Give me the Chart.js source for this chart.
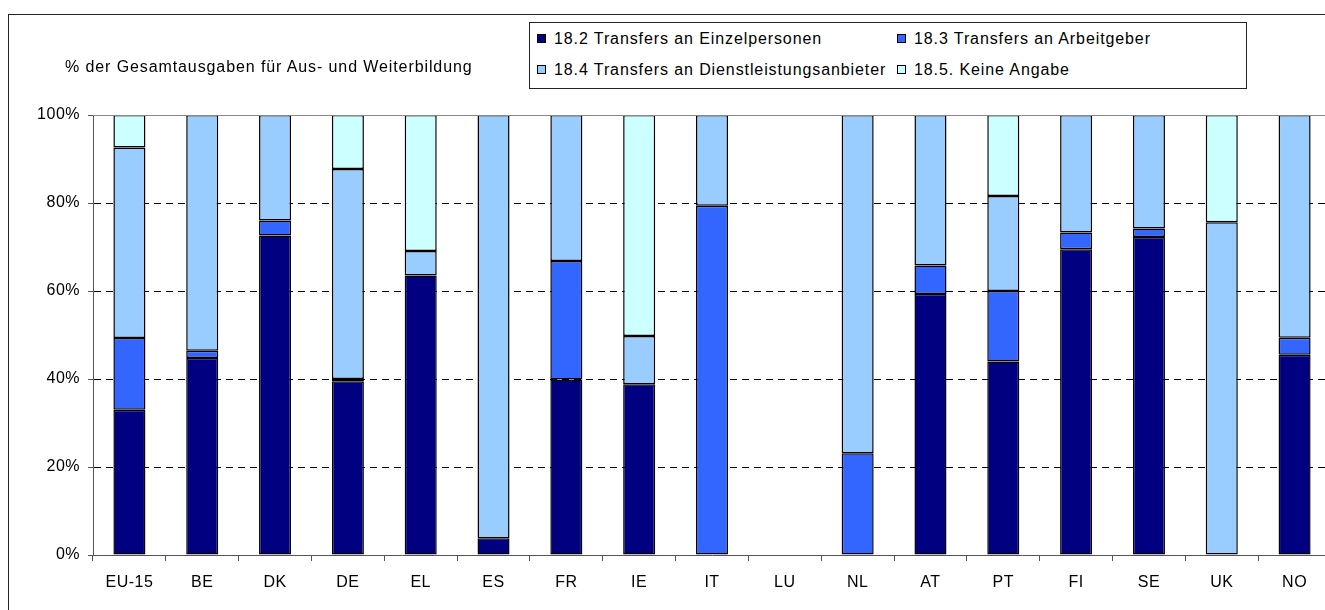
<!DOCTYPE html>
<html>
<head>
<meta charset="utf-8">
<script src="https://cdn.jsdelivr.net/npm/chart.js@4.4.0/dist/chart.umd.min.js"></script>
<style>
  body { margin: 0; background: #fff; overflow: hidden; width: 1325px; height: 610px; position: relative; font-family: "Liberation Sans", Arial, sans-serif; }
  #frame { position: absolute; left: 8px; top: 14px; width: 1400px; height: 700px; border: 1px solid #222; }
  #chart { position: absolute; left: 0; top: 0; }
  #title { position: absolute; left: 65px; top: 58px; font-size: 16px; letter-spacing: 0.9px; color: #000; white-space: nowrap; }
  #legend { position: absolute; left: 529px; top: 22px; width: 716px; height: 65px; border: 1px solid #222; background: #fff; }
  .item { position: absolute; font-size: 16px; letter-spacing: 0.9px; white-space: nowrap; line-height: 18px; }
  .item span.box { display: inline-block; width: 7px; height: 7px; border: 1px solid #000; margin-right: 8px; vertical-align: 1px; }
</style>
</head>
<body>
<div id="frame"></div>
<canvas id="chart" width="1340" height="610"></canvas>
<div id="title">% der Gesamtausgaben für Aus- und Weiterbildung</div>
<div id="legend"></div>
<script>
var categories = ['EU-15', 'BE', 'DK', 'DE', 'EL', 'ES', 'FR', 'IE', 'IT', 'LU', 'NL', 'AT', 'PT', 'FI', 'SE', 'UK', 'NO'];

// Anteile in %, null = kein Segment
var einzelpersonen = [33.0, 44.8, 72.6, 39.5, 63.5, 3.8, 39.9, 38.8, null, null, null, 59.3, 44.0, 69.5, 72.3, null, 45.5];
var arbeitgeber    = [16.3, 1.6, 3.4, 0.5, null, null, 26.9, null, 79.4, null, 23.1, 6.5, 16.0, 3.8, 1.9, null, 3.9];
var dienstleister  = [43.3, 53.6, 24.0, 47.7, 5.6, 96.2, 33.2, 11.0, 20.6, null, 76.9, 34.2, 21.6, 26.7, 25.8, 75.6, 50.6];
var keineAngabe    = [7.4, null, null, 12.3, 30.9, null, null, 50.2, null, null, null, null, 18.4, null, null, 24.4, null];

var yTicks = [0, 20, 40, 60, 80, 100];

var seriesNames = [
    '18.2 Transfers an Einzelpersonen',
    '18.3 Transfers an Arbeitgeber',
    '18.4 Transfers an Dienstleistungsanbieter',
    '18.5. Keine Angabe'
];
var seriesColors = ['#000080', '#3366ff', '#99ccff', '#ccffff'];
var seriesData = [einzelpersonen, arbeitgeber, dienstleister, keineAngabe];

var font = { family: '"Liberation Sans", Arial, sans-serif', size: 16 };

// etwas breitere Schrift wie im Original
var spacing = {
    id: 'spacing',
    beforeUpdate: function (chart) { chart.ctx.letterSpacing = '0.5px'; },
    beforeDraw: function (chart) { chart.ctx.letterSpacing = '0.5px'; }
};

// graue Linie oben am Diagrammbereich
var plotTop = {
    id: 'plotTop',
    afterDraw: function (chart) {
        var a = chart.chartArea, ctx = chart.ctx;
        ctx.save();
        ctx.strokeStyle = '#888';
        ctx.lineWidth = 1;
        ctx.beginPath();
        ctx.moveTo(a.left, Math.round(a.top) + 0.5);
        ctx.lineTo(a.right, Math.round(a.top) + 0.5);
        ctx.stroke();
        ctx.restore();
    }
};

var datasets = seriesData.map(function (d, i) {
    return {
        label: seriesNames[i],
        data: d,
        backgroundColor: seriesColors[i],
        borderColor: '#000',
        borderWidth: 1.5,
        borderSkipped: false,
        inflateAmount: 0,
        barPercentage: 0.44,
        categoryPercentage: 1
    };
});

new Chart(document.getElementById('chart'), {
    type: 'bar',
    data: { labels: categories, datasets: datasets },
    plugins: [spacing, plotTop],
    options: {
        responsive: false,
        animation: false,
        devicePixelRatio: 1,
        layout: { padding: { top: 115, right: 9, bottom: 15, left: 0 } },
        plugins: {
            legend: { display: false },
            title: { display: false },
            tooltip: { enabled: false }
        },
        scales: {
            x: {
                stacked: true,
                grid: { offset: true, drawOnChartArea: false, tickLength: 6, color: '#555' },
                border: { color: '#555' },
                ticks: { color: '#000', font: font, padding: 12, maxRotation: 0, autoSkip: false },
                afterFit: function (s) { s.height = 40; }
            },
            y: {
                stacked: true,
                min: 0,
                max: 100,
                afterBuildTicks: function (s) { s.ticks = yTicks.map(function (v) { return { value: v }; }); },
                ticks: { color: '#000', font: font, padding: 8, callback: function (v) { return v + '%'; } },
                grid: {
                    color: function (c) { return (c.tick.value === 0 || c.tick.value === 100) ? 'rgba(0,0,0,0)' : '#000'; },
                    tickColor: '#555',
                    tickLength: 5
                },
                border: { color: '#555', dash: [7, 5] },
                afterFit: function (s) { s.width = 93; }
            }
        }
    }
});

// Legende
var legend = document.getElementById('legend');
var pos = [[7, 7], [367, 7], [7, 38], [367, 38]];
seriesNames.forEach(function (name, i) {
    var el = document.createElement('div');
    el.className = 'item';
    el.style.left = pos[i][0] + 'px';
    el.style.top = pos[i][1] + 'px';
    el.innerHTML = '<span class="box" style="background:' + seriesColors[i] + '"></span>' + name;
    legend.appendChild(el);
});
</script>
</body>
</html>
